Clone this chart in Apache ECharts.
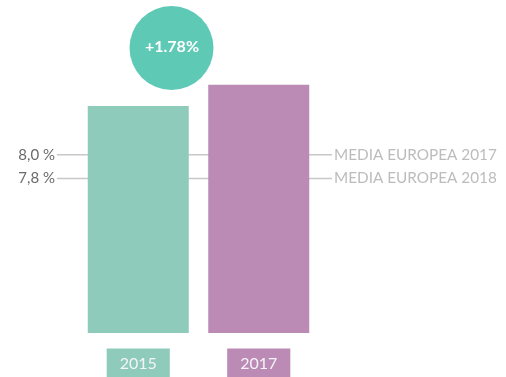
<!DOCTYPE html>
<html>
<head>
<meta charset="utf-8">
<script src="https://cdn.jsdelivr.net/npm/echarts@6/dist/echarts.min.js"></script>
<style>
  html, body { margin: 0; padding: 0; background: #fff; }
  #chart { width: 506px; height: 377px; }
</style>
</head>
<body>
<div id="chart"></div>
<script>
// Years on the x axis and the share shown by each bar (%)
const years = ['2015', '2017'];
const shares = [8.41, 8.59];
const barColors = ['#8fcbbb', '#bb8bb5'];

// European average reference lines
const refValues = [8.0, 7.8];
const refLeftLabels = ['8,0 %', '7,8 %'];
const refRightLabels = ['MEDIA EUROPEA 2017', 'MEDIA EUROPEA 2018'];

// Growth badge text
const growthLabel = '+1.78%';

const FONT = 'Lato, "Open Sans", sans-serif';

const chart = echarts.init(document.getElementById('chart'), null, { renderer: 'canvas' });

const rich = {};
years.forEach((y, i) => {
  rich['y' + i] = {
    backgroundColor: barColors[i],
    color: '#f4f4f8',
    fontSize: 16,
    fontFamily: FONT,
    lineHeight: 16,
    padding: [7, 13, 10, 13]
  };
});

chart.setOption({
  animation: false,
  backgroundColor: '#ffffff',
  grid: { left: 78, right: 187, top: 36, bottom: 44, outerBoundsMode: 'none', containLabel: false },
  xAxis: {
    type: 'category',
    data: years,
    axisLine: { show: false },
    axisTick: { show: false },
    axisLabel: {
      margin: 24,
      formatter: (v, idx) => '{y' + idx + '|' + v + '}',
      rich: rich
    }
  },
  yAxis: {
    type: 'value',
    min: 6.5,
    max: 9.0,
    show: false
  },
  series: [{
    type: 'bar',
    z: 2,
    barWidth: 101,
    data: shares.map((v, i) => ({ value: v, itemStyle: { color: barColors[i] } }))
  }]
});

// Reference lines and their labels, placed through the value axis
const graphics = [];
refValues.forEach((v, i) => {
  const y = chart.convertToPixel({ yAxisIndex: 0 }, v);
  graphics.push({
    type: 'line', z: 0,
    shape: { x1: 57, y1: y, x2: 332, y2: y },
    style: { stroke: '#c8c8c8', lineWidth: 1.5 }
  });
  graphics.push({
    type: 'text', z: 3,
    x: 55, y: y,
    style: {
      text: refLeftLabels[i], fill: '#6a6a6a', font: '15px ' + FONT,
      align: 'right', verticalAlign: 'middle'
    }
  });
  graphics.push({
    type: 'text', z: 3,
    x: 334, y: y,
    style: {
      text: refRightLabels[i], fill: '#bcbcbc', font: '15.3px ' + FONT,
      align: 'left', verticalAlign: 'middle'
    }
  });
});

// Growth badge above the first bar
graphics.push({
  type: 'circle', z: 5,
  shape: { cx: 171.5, cy: 48, r: 42 },
  style: { fill: '#5ecab6' }
});
graphics.push({
  type: 'text', z: 6,
  x: 172, y: 47,
  style: {
    text: growthLabel, fill: '#ffffff', font: 'bold 16px ' + FONT,
    align: 'center', verticalAlign: 'middle'
  }
});

chart.setOption({ graphic: graphics });
</script>
</body>
</html>
